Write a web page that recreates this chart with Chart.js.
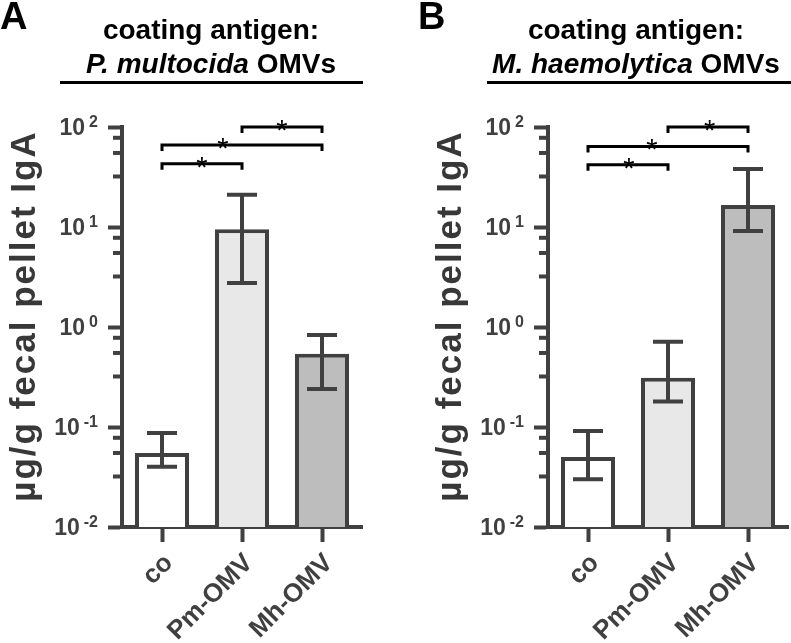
<!DOCTYPE html>
<html><head><meta charset="utf-8">
<script src="https://cdn.jsdelivr.net/npm/chart.js@4/dist/chart.umd.min.js"></script>
<style>
html,body{margin:0;padding:0;background:#fff;}
#wrap{position:relative;width:791px;height:643px;overflow:hidden;background:#fff;}
.panel{position:absolute;top:0;height:643px;}
#pA{left:0;width:400px;}
#pB{left:400px;width:391px;}
</style></head><body>
<div id="wrap"><div class="panel" id="pA"><canvas id="cA"></canvas></div><div class="panel" id="pB"><canvas id="cB"></canvas></div></div>
<script>
// ---- data ----
const categories = ['co', 'Pm-OMV', 'Mh-OMV'];
const majorTicks = [0.01, 0.1, 1, 10, 100];
const minorTickFactors = [3.2, 5.5, 7.8];
const valuesA = [0.055, 9.5, 0.54];
const errLowA = [0.040, 2.75, 0.24];
const errHighA = [0.087, 21, 0.83];
const valuesB = [0.050, 0.31, 16.6];
const errLowB = [0.030, 0.18, 9.1];
const errHighB = [0.091, 0.71, 38];
const sigPairs = [[1, 2], [0, 2], [0, 1]];
const sigLevelsA = [100, 66, 43];
const sigLevelsB = [100, 64, 42];
const sigMarks = ['*', '*', '*'];
const yAxisTitle = 'µg/g fecal pellet IgA';
const titleLine1 = 'coating antigen:';
const titleItalicA = 'P. multocida';
const titleItalicB = 'M. haemolytica';
const titleTail = ' OMVs';

// ---- styles ----
const FONT = '"Liberation Sans", Arial, Helvetica, sans-serif';
const AXIS = '#404040';
const barColors = ['#ffffff', '#e8e8e8', '#bdbdbd'];

function decor(p) {
  return {
    id: 'decor' + p.letter,
    afterDraw(chart) {
      const ctx = chart.ctx, xs = chart.scales.x, ys = chart.scales.y, ca = chart.chartArea;
      ctx.save();
      // minor ticks
      ctx.strokeStyle = AXIS; ctx.lineWidth = 4; ctx.lineCap = 'butt';
      for (let d = -2; d < 2; d++) {
        minorTickFactors.forEach(f => {
          const y = ys.getPixelForValue(Math.pow(10, d) * f);
          ctx.beginPath(); ctx.moveTo(ca.left - 9, y); ctx.lineTo(ca.left, y); ctx.stroke();
        });
      }
      // y tick labels with superscript
      ctx.fillStyle = AXIS;
      majorTicks.forEach(v => {
        const y = ys.getPixelForValue(v);
        const e = String(Math.round(Math.log10(v)));
        const right = ca.left - 24;
        ctx.font = 'bold 16px ' + FONT;
        ctx.textAlign = 'right'; ctx.textBaseline = 'alphabetic';
        const ew = ctx.measureText(e).width;
        ctx.fillText(e, right, y);
        ctx.font = 'bold 23px ' + FONT;
        ctx.fillText('10', right - ew - 4, y + 8);
      });
      // y axis title
      ctx.save();
      ctx.translate(p.yTitleX, p.yTitleY);
      ctx.rotate(-Math.PI / 2);
      ctx.font = 'bold 35px ' + FONT;
      try { ctx.letterSpacing = '2px'; } catch (e) {}
      ctx.fillStyle = '#383838';
      ctx.textAlign = 'center'; ctx.textBaseline = 'alphabetic';
      ctx.fillText(yAxisTitle, 0, 0);
      try { ctx.letterSpacing = '0px'; } catch (e) {}
      ctx.restore();
      // error bars
      ctx.strokeStyle = AXIS; ctx.lineWidth = 4;
      p.values.forEach((v, i) => {
        const x = xs.getPixelForValue(i);
        const yt = ys.getPixelForValue(p.errHigh[i]);
        const yb = ys.getPixelForValue(p.errLow[i]);
        ctx.beginPath();
        ctx.moveTo(x, yt); ctx.lineTo(x, yb);
        ctx.moveTo(x - 15, yt); ctx.lineTo(x + 15, yt);
        ctx.moveTo(x - 15, yb); ctx.lineTo(x + 15, yb);
        ctx.stroke();
      });
      // significance brackets
      ctx.strokeStyle = '#000'; ctx.lineWidth = 3; ctx.fillStyle = '#000';
      sigPairs.forEach((pr, k) => {
        const x1 = xs.getPixelForValue(pr[0]), x2 = xs.getPixelForValue(pr[1]);
        const y = ys.getPixelForValue(p.sigLevels[k]);
        ctx.beginPath();
        ctx.moveTo(x1, y + 6); ctx.lineTo(x1, y); ctx.lineTo(x2, y); ctx.lineTo(x2, y + 6);
        ctx.stroke();
        const sx = xs.getPixelForValue(0) + p.starAt[k] * (xs.getPixelForValue(1) - xs.getPixelForValue(0));
        ctx.font = '29px ' + FONT; ctx.textAlign = 'center'; ctx.textBaseline = 'alphabetic';
        ctx.fillText(sigMarks[k], sx, y + 13);
      });
      // panel letter
      ctx.fillStyle = '#000';
      ctx.font = 'bold 38px ' + FONT; ctx.textAlign = 'left';
      ctx.fillText(p.letter, p.letterX, 29);
      // title
      ctx.font = 'bold 28px ' + FONT; ctx.textAlign = 'center';
      ctx.fillText(titleLine1, p.titleX, 39);
      ctx.font = 'italic bold 28px ' + FONT;
      const w1 = ctx.measureText(p.italic).width;
      ctx.font = 'bold 28px ' + FONT;
      const w2 = ctx.measureText(titleTail).width;
      let x0 = p.titleX - (w1 + w2) / 2;
      ctx.textAlign = 'left';
      ctx.font = 'italic bold 28px ' + FONT;
      ctx.fillText(p.italic, x0, 73);
      ctx.font = 'bold 28px ' + FONT;
      ctx.fillText(titleTail, x0 + w1, 73);
      ctx.fillRect(p.ulX1, 81, p.ulX2 - p.ulX1, 3);
      ctx.restore();
    }
  };
}

function buildChart(id, p) {
  return new Chart(document.getElementById(id), {
    type: 'bar',
    data: {
      labels: categories,
      datasets: [{
        data: p.values,
        backgroundColor: barColors,
        borderColor: AXIS,
        borderWidth: 4,
        borderSkipped: 'start',
        barPercentage: 0.675,
        categoryPercentage: 1
      }]
    },
    options: {
      responsive: true,
      maintainAspectRatio: false,
      animation: false,
      devicePixelRatio: 1,
      layout: { padding: { left: 0, right: p.padRight, top: 127, bottom: 0 } },
      plugins: { legend: { display: false }, tooltip: { enabled: false } },
      scales: {
        x: {
          type: 'category', offset: true,
          afterFit: s => { s.height = 116; },
          grid: { display: true, drawOnChartArea: false, drawTicks: true, tickLength: 15, tickWidth: 4, tickColor: AXIS, offset: false },
          border: { display: true, color: AXIS, width: 4 },
          ticks: { color: AXIS, font: { family: FONT, size: 26, weight: 'bold' }, minRotation: 45, maxRotation: 45, padding: 6, labelOffset: 7, autoSkip: false }
        },
        y: {
          type: 'logarithmic', min: 0.01, max: 100,
          afterBuildTicks: s => { s.ticks = majorTicks.map(v => ({ value: v })); },
          afterFit: s => { s.width = p.axisX; },
          grid: { display: true, drawOnChartArea: false, drawTicks: true, tickLength: 14, tickWidth: 4, tickColor: AXIS },
          border: { display: true, color: AXIS, width: 4 },
          ticks: { display: false }
        }
      }
    },
    plugins: [decor(p)]
  });
}

buildChart('cA', {
  letter: 'A', letterX: 0, values: valuesA, errLow: errLowA, errHigh: errHighA,
  sigLevels: sigLevelsA, starAt: [1.5, 0.76, 0.5], italic: titleItalicA,
  titleX: 211, ulX1: 60, ulX2: 363, axisX: 122, padRight: 38, yTitleX: 35, yTitleY: 316
});
buildChart('cB', {
  letter: 'B', letterX: 18, values: valuesB, errLow: errLowB, errHigh: errHighB,
  sigLevels: sigLevelsB, starAt: [1.52, 0.8, 0.51], italic: titleItalicB,
  titleX: 236, ulX1: 87, ulX2: 391, axisX: 148, padRight: 3, yTitleX: 61, yTitleY: 316
});
</script>
</body></html>
